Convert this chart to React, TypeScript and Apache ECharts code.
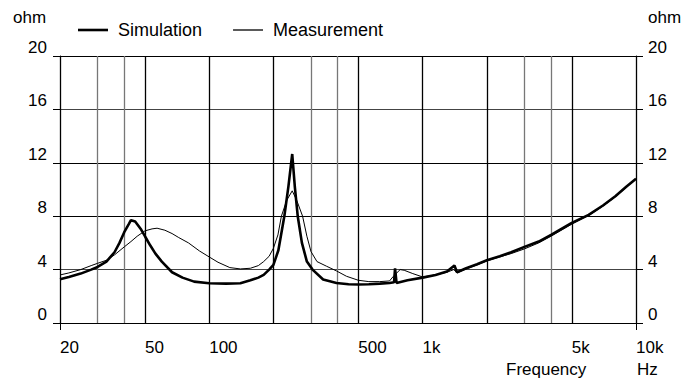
import React, { useEffect, useRef } from 'react';
import * as echarts from 'echarts';

const simFreq = [20, 22, 25, 28, 30, 33, 36, 38, 40, 42, 43, 45, 48, 50, 53, 56, 60, 67, 75, 85, 100, 120, 140, 156, 170, 180, 191, 200, 211, 225, 235, 245, 252, 260, 272, 287, 305, 342, 395, 450, 500, 560, 630, 700, 735, 743, 755, 850, 1000, 1150, 1300, 1410, 1450, 1600, 1800, 2000, 2300, 2600, 3000, 3500, 4000, 5000, 6000, 7000, 8000, 9000, 10000];
const simOhm = [3.28, 3.45, 3.7, 4.0, 4.2, 4.6, 5.3, 6.0, 6.8, 7.4, 7.7, 7.6, 7.0, 6.5, 5.8, 5.2, 4.6, 3.8, 3.4, 3.1, 2.98, 2.95, 2.98, 3.2, 3.4, 3.6, 4.0, 4.35, 5.45, 8.0, 10.2, 12.66, 10.2, 8.0, 6.0, 4.6, 4.0, 3.26, 3.0, 2.9, 2.88, 2.9, 2.95, 3.0, 3.05, 4.1, 3.0, 3.2, 3.4, 3.6, 3.85, 4.3, 3.8, 4.1, 4.4, 4.7, 5.0, 5.3, 5.7, 6.1, 6.6, 7.5, 8.1, 8.8, 9.5, 10.2, 10.8];

const measFreq = [20, 22, 25, 28, 30, 33, 36, 40, 43, 46, 50, 54, 57, 62, 67, 72, 80, 90, 100, 110, 125, 140, 156, 170, 180, 191, 200, 210, 218, 231, 245, 257, 274, 287, 300, 320, 355, 395, 440, 500, 560, 630, 700, 730, 785, 820, 900, 1000, 1150, 1300, 1400, 1450, 1600, 1800, 2000, 2300, 2600, 3000, 3500, 4000, 5000, 6000, 7000, 8000, 9000, 10000];
const measOhm = [3.6, 3.75, 4.0, 4.3, 4.47, 4.7, 5.1, 5.7, 6.1, 6.5, 6.9, 7.05, 7.1, 6.95, 6.7, 6.4, 6.0, 5.4, 4.95, 4.55, 4.15, 4.05, 4.1, 4.3, 4.6, 5.0, 5.6, 6.6, 8.0, 9.2, 9.9, 9.2, 8.0, 6.5, 5.35, 4.6, 4.25, 3.9, 3.5, 3.2, 3.1, 3.1, 3.15, 3.5, 4.0, 3.95, 3.7, 3.45, 3.6, 3.8, 4.0, 3.75, 4.05, 4.35, 4.65, 4.95, 5.2, 5.55, 6.0, 6.5, 7.4, 8.05, 8.75, 9.45, 10.15, 10.8];

const gridFreq = [20, 30, 40, 50, 100, 200, 300, 400, 500, 1000, 2000, 3000, 4000, 5000, 10000];
const gridFreqColors = ['#000', '#777', '#777', '#000', '#000', '#000', '#777', '#777', '#000', '#000', '#000', '#777', '#777', '#000', '#000'];
const labelFreq = [20, 50, 100, 500, 1000, 5000, 10000];
const endFreq = [20, 10000];
const ohmColors = ['#000', '#444', '#000', '#000', '#444', '#000'];

const FONT = 'Liberation Sans, Arial, sans-serif';

export default function App() {
  const ref = useRef<HTMLDivElement>(null);
  useEffect(() => {
    const chart = echarts.init(ref.current!, null, { renderer: 'svg' });
    const gridBox = { left: 60, right: 47, top: 56, bottom: 62 };
    const fmt = (v: number) => (v >= 1000 ? v / 1000 + 'k' : String(v));
    const yBase = (pos: 'left' | 'right', gi: number, show: boolean) => ({
      type: 'value',
      gridIndex: gi,
      position: pos,
      min: 0,
      max: 20,
      interval: 4,
      axisLine: { show: show, lineStyle: { color: '#000', width: 1 } },
      axisTick: { show: show, inside: false, length: 7, lineStyle: { color: '#000', width: 1 } },
      axisLabel: {
        show: show,
        fontSize: 17,
        fontFamily: FONT,
        color: '#000',
        align: pos === 'left' ? 'right' : 'left',
        verticalAlign: 'bottom',
        margin: pos === 'left' ? 13 : 12,
      },
      splitLine: { show: show && pos === 'left', lineStyle: { color: ohmColors, width: 1 } },
    });
    chart.setOption({
      animation: false,
      backgroundColor: '#fff',
      grid: [
        { ...gridBox },
        { ...gridBox },
      ],
      legend: {
        left: 78,
        top: 21,
        padding: 0,
        itemWidth: 30,
        itemHeight: 14,
        itemGap: 31,
        textStyle: { fontSize: 18, fontFamily: FONT, color: '#000', padding: [0, 0, 0, 5] },
        data: [
          { name: 'Simulation', icon: 'path://M0,0H30V2.6H0Z' },
          { name: 'Measurement', icon: 'path://M0,0H30V1.3H0Z' },
        ],
      },
      xAxis: [
        {
          type: 'log',
          gridIndex: 0,
          position: 'bottom',
          min: 20,
          max: 10000,
          axisLine: { show: true, lineStyle: { color: '#000' } },
          axisTick: { show: false, customValues: gridFreq },
          axisLabel: {
            customValues: labelFreq,
            formatter: fmt,
            fontSize: 17,
            fontFamily: FONT,
            color: '#000',
            align: 'left',
            margin: 16,
          },
          splitLine: { show: true, lineStyle: { color: gridFreqColors, width: 1.3 } },
        },
        {
          type: 'log',
          gridIndex: 0,
          position: 'top',
          min: 20,
          max: 10000,
          axisLine: { show: false },
          axisTick: { show: true, inside: false, customValues: endFreq, length: 14, lineStyle: { color: '#000' } },
          axisLabel: { show: false },
          splitLine: { show: false },
        },
        {
          type: 'log',
          gridIndex: 1,
          position: 'bottom',
          min: 20,
          max: 10000,
          axisLine: { show: false },
          axisTick: { show: true, inside: false, customValues: endFreq, length: 7, lineStyle: { color: '#000' } },
          axisLabel: { show: false },
          splitLine: { show: false },
        },
      ],
      yAxis: [yBase('left', 0, true), yBase('right', 0, true), yBase('left', 1, false)],
      graphic: [
        { type: 'text', left: 13, top: 9, style: { text: 'ohm', fontSize: 17, fontFamily: FONT, fill: '#000' } },
        { type: 'text', left: 648, top: 9, style: { text: 'ohm', fontSize: 17, fontFamily: FONT, fill: '#000' } },
        { type: 'text', left: 506, top: 361, style: { text: 'Frequency', fontSize: 17, fontFamily: FONT, fill: '#000' } },
        { type: 'text', left: 637, top: 361, style: { text: 'Hz', fontSize: 17, fontFamily: FONT, fill: '#000' } },
      ],
      series: [
        {
          name: 'Simulation',
          type: 'line',
          xAxisIndex: 0,
          yAxisIndex: 0,
          data: simFreq.map((f, i) => [f, simOhm[i]]),
          showSymbol: false,
          symbol: 'none',
          lineStyle: { color: '#000', width: 2.6 },
          itemStyle: { color: '#000' },
          z: 5,
        },
        {
          name: 'Measurement',
          type: 'line',
          xAxisIndex: 0,
          yAxisIndex: 0,
          data: measFreq.map((f, i) => [f, measOhm[i]]),
          showSymbol: false,
          symbol: 'none',
          lineStyle: { color: '#000', width: 1 },
          itemStyle: { color: '#000' },
          z: 4,
        },
      ],
    });
    return () => chart.dispose();
  }, []);
  return <div ref={ref} style={{ position: 'fixed', left: 0, top: 0, width: 683, height: 385 }} />;
}
